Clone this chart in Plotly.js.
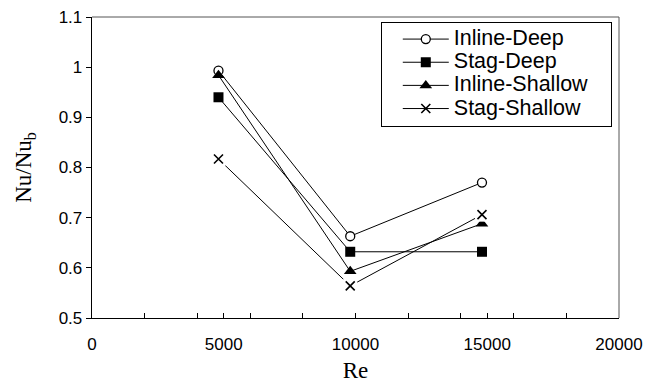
<!DOCTYPE html>
<html>
<head>
<meta charset="utf-8">
<script src="https://cdn.plot.ly/plotly-3.0.1.min.js"></script>
<style>html,body{margin:0;padding:0;background:#fff;}</style>
</head>
<body>
<div id="chart" style="width:656px;height:392px;"></div>
<script>
// Reynolds numbers (x)
const re = [4800, 9800, 14800];
// Nu/Nu_b series
const inlineDeep    = [0.993, 0.663, 0.770];
const stagDeep      = [0.940, 0.632, 0.632];
const inlineShallow = [0.984, 0.593, 0.688];
const stagShallow   = [0.817, 0.564, 0.706];
const seriesNames = ['Inline-Deep', 'Stag-Deep', 'Inline-Shallow', 'Stag-Shallow'];

const legendText = n => '<span style="font-size:21.5px">' + n + '&nbsp;&nbsp;&nbsp;</span>';
const lineStyle = {color: '#000', width: 1};

const traces = [
  {x: re, y: inlineDeep, name: legendText(seriesNames[0]), mode: 'lines+markers', line: lineStyle,
   marker: {symbol: 'circle', size: 9, color: '#fff', line: {color: '#000', width: 1.3}}},
  {x: re, y: stagDeep, name: legendText(seriesNames[1]), mode: 'lines+markers', line: lineStyle,
   marker: {symbol: 'square', size: 10, color: '#000'}},
  {x: re, y: inlineShallow, name: legendText(seriesNames[2]), mode: 'lines+markers', line: lineStyle,
   marker: {symbol: 'triangle-up', size: 11, color: '#000'}},
  {x: re, y: stagShallow, name: legendText(seriesNames[3]), mode: 'lines+markers', line: lineStyle,
   marker: {symbol: 'x-thin-open', size: 9, color: '#000', line: {color: '#000', width: 1.6}}},
  {x: re, y: stagShallow, mode: 'markers', showlegend: false, hoverinfo: 'skip',
   marker: {symbol: 'square', size: 14, color: '#fff'}},
  {x: re, y: stagShallow, mode: 'markers', showlegend: false, hoverinfo: 'skip',
   marker: {symbol: 'x-thin-open', size: 9, color: '#000', line: {color: '#000', width: 1.6}}}
];

const tickFont = {family: '"Liberation Sans", Arial, sans-serif', size: 17, color: '#000'};
const titleFont = {family: '"Liberation Serif", "Times New Roman", serif', size: 23, color: '#000'};

const layout = {
  width: 656, height: 392,
  margin: {l: 92, r: 37, t: 17, b: 74},
  paper_bgcolor: '#fff', plot_bgcolor: '#fff',
  showlegend: true,
  xaxis: {
    range: [0, 20000], dtick: 5000, tick0: 0, tickformat: 'd',
    showgrid: false, zeroline: false,
    showline: true, linecolor: '#000', linewidth: 1.3,
    ticks: 'inside', ticklen: 5, tickcolor: '#000', tickwidth: 1,
    minor: {dtick: 2000, tick0: 0, ticks: 'inside', ticklen: 5, tickcolor: '#000', tickwidth: 1, showgrid: false},
    tickfont: tickFont, ticklabelstandoff: 10,
    title: {text: 'Re', font: titleFont, standoff: 9}
  },
  yaxis: {
    range: [0.5, 1.1], dtick: 0.1, tick0: 0.5,
    showgrid: false, zeroline: false,
    showline: true, linecolor: '#000', linewidth: 1.3,
    ticks: 'outside', ticklen: 5, tickcolor: '#000', tickwidth: 1,
    tickfont: tickFont,
    title: {text: 'Nu/Nu<sub>b</sub>', font: titleFont, standoff: 20}
  },
  shapes: [
    {type: 'line', xref: 'paper', yref: 'paper', x0: 0, x1: 1, y0: 1, y1: 1, line: {color: '#555', width: 1}},
    {type: 'line', xref: 'paper', yref: 'paper', x0: 1, x1: 1, y0: 0, y1: 1, line: {color: '#555', width: 1}}
  ],
  legend: {
    x: 0.548, y: 0.985, xanchor: 'left', yanchor: 'top',
    bgcolor: '#fff', bordercolor: '#000', borderwidth: 1,
    font: {family: '"Liberation Sans", Arial, sans-serif', size: 15.5, color: '#000'},
    indentation: 16, itemwidth: 46,
    tracegroupgap: 0
  }
};

Plotly.newPlot('chart', traces, layout, {staticPlot: true, displayModeBar: false});
</script>
</body>
</html>
